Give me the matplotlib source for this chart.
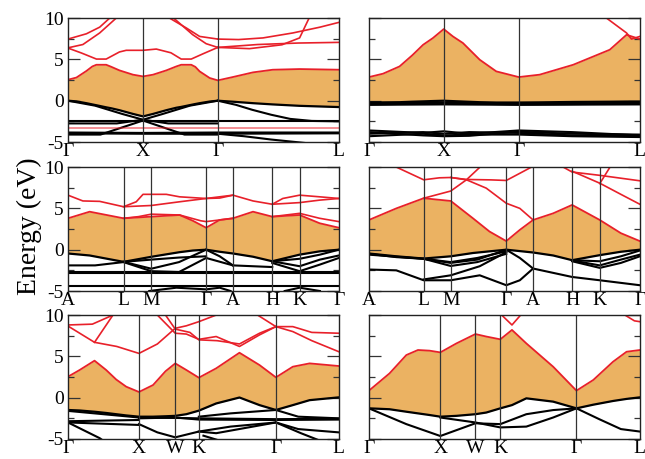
import matplotlib.pyplot as plt
from matplotlib.ticker import MultipleLocator

plt.rcParams['font.family'] = ['Liberation Serif', 'DejaVu Serif']
plt.rcParams['axes.unicode_minus'] = False

RED = '#e8202a'
FILL = '#ebb262'

# ---- panel 1 (top left) ----
p1_kpos = [0, 0.277, 0.553, 1.0]
p1_klab = ['Γ', 'X', 'Γ', 'L']
p1_x = [0, 0.031, 0.068, 0.09, 0.105, 0.141, 0.16, 0.19, 0.24, 0.277, 0.314, 0.363, 0.4,
        0.418, 0.455, 0.47, 0.486, 0.523, 0.553, 0.608, 0.683, 0.756, 0.855, 1.0]
p1_cb = [2.54, 2.8, 3.6, 4.15, 4.35, 4.35, 4.1, 3.67, 3.15, 2.94, 3.15, 3.67, 4.15,
         4.35, 4.35, 4.1, 3.55, 2.75, 2.46, 2.86, 3.43, 3.75, 3.83, 3.75]
p1_vb = [0.0, -0.08, -0.3, -0.45, -0.55, -0.8, -0.92, -1.15, -1.6, -1.9, -1.6, -1.15, -0.85,
         -0.75, -0.5, -0.4, -0.3, -0.1, 0.0, -0.12, -0.3, -0.45, -0.62, -0.77]
p1_red = [
    ([0, 0.05, 0.105, 0.141, 0.19, 0.215, 0.277, 0.326, 0.38, 0.418, 0.455, 0.5, 0.553],
     [6.37, 5.77, 5.04, 5.04, 5.9, 6.1, 6.1, 6.25, 5.8, 5.04, 5.04, 5.7, 6.45]),
    ([0.553, 0.7, 0.85, 1.0], [6.45, 6.8, 6.98, 7.06]),
    ([0.553, 0.67, 0.79, 0.855, 0.89], [6.45, 6.3, 6.77, 7.6, 10.0]),
    ([0.553, 0.63, 0.72, 0.83, 0.93, 1.0], [7.46, 7.4, 7.6, 8.2, 8.9, 9.48]),
    ([0, 0.068, 0.117, 0.154], [7.46, 8.1, 8.9, 10.0]),
    ([0, 0.055, 0.117, 0.178], [6.4, 6.8, 8.2, 10.0]),
    ([0.375, 0.437, 0.486, 0.553], [10.0, 8.8, 7.78, 7.46]),
    ([0.39, 0.46, 0.51, 0.553], [10.0, 8.0, 6.9, 6.45]),
]
p1_pale = ([0, 1.0], [-3.3, -3.3])
p1_black = [
    ([0, 0.1, 0.2, 0.277, 0.35, 0.45, 0.553], [0.0, -0.6, -1.6, -2.3, -1.6, -0.6, 0.0]),
    ([0.553, 0.62, 0.68, 0.75, 0.82, 0.9, 1.0], [0.0, -0.5, -1.1, -1.7, -2.2, -2.45, -2.5]),
    ([0, 1.0], [-2.5, -2.5]),
    ([0, 0.18, 0.277, 0.37, 0.553], [-2.75, -2.75, -2.3, -2.75, -2.75]),
    ([0, 0.12, 0.277, 0.43, 0.553], [-4.1, -4.1, -2.4, -4.1, -4.1]),
    ([0, 0.277, 0.553, 1.0], [-3.85, -3.9, -3.85, -3.85]),
    ([0, 0.277, 0.553, 1.0], [-3.95, -4.0, -4.0, -3.95]),
    ([0.553, 0.65, 0.75, 0.84, 0.9], [-4.0, -4.3, -4.7, -5.0, -5.2]),
]

# ---- panel 2 (top right) ----
p2_kpos = [0, 0.276, 0.553, 1.0]
p2_klab = ['Γ', 'X', 'Γ', 'L']
p2_x = [0, 0.052, 0.113, 0.16, 0.2, 0.236, 0.276, 0.31, 0.347, 0.409, 0.47,
        0.553, 0.63, 0.754, 0.889, 0.951, 1.0]
p2_cb = [2.86, 3.27, 4.15, 5.5, 6.77, 7.58, 8.67, 7.78, 6.98, 4.96, 3.55,
         2.86, 3.15, 4.35, 6.17, 7.98, 7.46]
p2_vb = [-0.2, -0.2, -0.18, -0.12, -0.08, -0.04, 0.0, -0.05, -0.1, -0.18, -0.22,
         -0.22, -0.2, -0.15, -0.12, -0.1, -0.1]
p2_red = [
    ([0.877, 0.951, 0.969, 1.0], [10.0, 8.2, 7.46, 7.78]),
]
p2_black = [
    ([0, 0.276, 0.553, 1.0], [-0.35, -0.2, -0.4, -0.25]),
    ([0, 0.276, 0.553, 1.0], [-0.45, -0.3, -0.45, -0.35]),
    ([0, 0.276, 0.553, 1.0], [-0.5, -0.45, -0.5, -0.45]),
    ([0, 0.2, 0.276, 0.37, 0.553, 0.75, 1.0], [-3.6, -3.9, -3.7, -4.0, -3.6, -3.8, -4.2]),
    ([0, 0.2, 0.276, 0.37, 0.553, 0.75, 1.0], [-4.0, -3.8, -4.0, -3.8, -3.9, -4.2, -4.3]),
    ([0, 0.2, 0.276, 0.37, 0.553, 0.75, 1.0], [-4.3, -4.0, -4.2, -4.1, -4.1, -4.3, -4.4]),
    ([0, 0.2, 0.276, 0.37, 0.553, 0.75, 1.0], [-3.8, -4.2, -4.3, -4.25, -3.75, -4.0, -4.1]),
]

# ---- panel 3 (middle left) ----
p3_kpos = [0, 0.205, 0.3075, 0.51, 0.609, 0.754, 0.855, 1.0]
p3_klab = ['A', 'L', 'M', 'Γ', 'A', 'H', 'K', 'Γ']
p3_x = [0, 0.08, 0.205, 0.3075, 0.412, 0.461, 0.51, 0.56, 0.609, 0.683, 0.754,
        0.855, 0.929, 1.0]
p3_cb = [3.8, 4.6, 3.8, 4.0, 4.2, 3.5, 2.66, 3.6, 3.8, 4.6, 4.0, 4.2, 3.2, 2.66]
p3_vb = [-0.46, -0.7, -1.47, -0.86, -0.3, -0.1, 0.0, -0.25, -0.46, -0.85, -1.4,
         -0.6, -0.2, 0.0]
p3_red = [
    ([0.205, 0.26, 0.3075, 0.412, 0.49, 0.51, 0.56, 0.609],
     [3.8, 4.0, 4.3, 4.2, 3.5, 3.4, 3.6, 3.8]),
    ([0.754, 0.855, 0.929, 1.0], [4.0, 4.4, 3.8, 3.4]),
    ([0, 0.055, 0.117, 0.205, 0.252, 0.277, 0.3075, 0.363, 0.412, 0.51, 0.609,
      0.683, 0.754, 0.793, 0.855, 0.929, 1.0],
     [6.6, 5.9, 5.85, 5.2, 5.8, 6.7, 6.7, 6.7, 6.4, 6.2, 6.6, 5.9, 5.5, 6.2,
      6.6, 6.4, 6.2]),
    ([0.205, 0.3075, 0.412, 0.51, 0.56, 0.609], [5.2, 5.35, 5.8, 6.2, 6.25, 6.6]),
    ([0.754, 0.855, 0.929, 1.0], [5.5, 5.7, 6.0, 6.2]),
]
p3_black = [
    ([0, 0.1, 0.205], [-1.9, -1.9, -1.5]),
    ([0.205, 0.3075, 0.41, 0.51], [-1.47, -1.2, -0.95, -0.8]),
    ([0.205, 0.3075, 0.41, 0.51], [-1.47, -2.3, -1.5, 0.0]),
    ([0.205, 0.3075, 0.41, 0.51, 0.609], [-1.5, -2.6, -2.7, -1.0, -1.9]),
    ([0.51, 0.56, 0.609], [0.0, -0.8, -1.9]),
    ([0.609, 0.754], [-1.9, -2.1]),
    ([0.754, 0.855, 0.93, 1.0], [-1.4, -1.1, -0.6, 0.0]),
    ([0.754, 0.855, 0.93, 1.0], [-1.4, -2.0, -1.2, -0.7]),
    ([0.754, 0.855, 0.93, 1.0], [-1.6, -2.6, -1.8, -1.0]),
    ([0, 1.0], [-2.72, -2.72]),
    ([0, 1.0], [-2.85, -2.85]),
    ([0, 1.0], [-4.4, -4.4]),
    ([0.3, 0.4, 0.51, 0.56, 0.6], [-5.0, -4.6, -4.8, -4.6, -5.0]),
    ([0.8, 0.855, 0.93], [-5.0, -4.6, -5.0]),
]

# ---- panel 4 (middle right) ----
p4_kpos = [0, 0.202, 0.302, 0.507, 0.606, 0.75, 0.852, 1.0]
p4_klab = ['A', 'L', 'M', 'Γ', 'A', 'H', 'K', 'Γ']
p4_x = [0, 0.101, 0.202, 0.302, 0.384, 0.445, 0.507, 0.557, 0.606, 0.68, 0.75,
        0.852, 0.93, 1.0]
p4_cb = [3.6, 5.0, 6.23, 5.9, 3.8, 2.2, 1.04, 2.4, 3.6, 4.4, 5.42, 3.6, 2.0, 1.04]
p4_vb = [-0.46, -0.8, -1.07, -0.8, -0.4, -0.2, 0.0, -0.17, -0.34, -0.7, -1.27,
         -0.66, -0.25, 0.0]
p4_red = [
    ([0.202, 0.302, 0.36, 0.41], [6.23, 7.1, 8.46, 10.0]),
    ([0.101, 0.202, 0.26, 0.302, 0.36, 0.45, 0.507, 0.56, 0.6],
     [10.0, 8.46, 8.7, 8.74, 8.5, 8.45, 8.38, 9.3, 10.0]),
    ([0.302, 0.36, 0.433, 0.507, 0.557, 0.606], [8.74, 8.46, 7.45, 5.62, 5.0, 3.6]),
    ([0.717, 0.75, 0.852, 1.0], [10.0, 9.4, 9.0, 8.34]),
    ([0.75, 0.852, 0.93, 1.0], [9.5, 8.05, 6.7, 5.5]),
    ([0.852, 0.89], [8.0, 10.0]),
]
p4_black = [
    ([0, 0.101, 0.202, 0.302, 0.4, 0.507], [-0.5, -0.9, -1.1, -1.5, -1.0, -0.2]),
    ([0, 0.202, 0.302, 0.4, 0.507], [-0.6, -1.1, -1.97, -1.5, -0.5]),
    ([0.202, 0.302, 0.4, 0.507, 0.557, 0.606], [-1.1, -1.6, -1.2, 0.0, -1.0, -2.28]),
    ([0, 0.101, 0.202, 0.302, 0.409, 0.507, 0.557, 0.606, 0.75, 0.852, 1.0],
     [-2.4, -2.5, -3.7, -3.7, -3.1, -4.3, -3.7, -2.28, -3.3, -3.7, -4.3]),
    ([0.202, 0.302, 0.409, 0.507], [-3.6, -3.1, -2.0, -0.3]),
    ([0.75, 0.852, 0.93, 1.0], [-1.27, -1.4, -0.8, -0.1]),
    ([0.75, 0.852, 0.93, 1.0], [-1.3, -1.9, -1.2, -0.6]),
    ([0.75, 0.852, 0.93, 1.0], [-1.4, -2.2, -1.6, -0.8]),
]

# ---- panel 5 (bottom left) ----
p5_kpos = [0, 0.262, 0.396, 0.483, 0.7675, 1.0]
p5_klab = ['Γ', 'X', 'W', 'K', 'Γ', 'L']
p5_x = [0, 0.043, 0.098, 0.141, 0.178, 0.215, 0.262, 0.314, 0.36, 0.396, 0.437,
        0.483, 0.547, 0.633, 0.707, 0.7675, 0.83, 0.892, 1.0]
p5_cb = [2.54, 3.35, 4.48, 3.35, 2.2, 1.33, 0.69, 1.53, 3.2, 4.15, 3.35, 2.42,
         3.55, 5.44, 3.95, 2.46, 3.75, 4.15, 3.83]
p5_vb = [-1.49, -1.55, -1.7, -1.85, -2.0, -2.15, -2.3, -2.3, -2.25, -2.2, -2.0,
         -1.57, -0.7, 0.02, -0.9, -1.49, -0.9, -0.3, 0.04]
p5_red = [
    ([0, 0.098, 0.18, 0.262, 0.33, 0.396, 0.437, 0.483, 0.547],
     [8.67, 6.7, 6.2, 5.36, 6.5, 8.4, 8.7, 9.2, 10.0]),
    ([0, 0.09, 0.166], [8.8, 8.9, 10.0]),
    ([0.098, 0.166], [6.7, 10.0]),
    ([0.33, 0.396, 0.437, 0.483, 0.547, 0.633, 0.707, 0.7675],
     [10.0, 7.8, 7.7, 7.06, 7.4, 6.2, 7.6, 8.6]),
    ([0.36, 0.396, 0.45, 0.483, 0.55, 0.633, 0.707, 0.7675],
     [10.0, 8.3, 7.9, 7.0, 6.9, 6.5, 7.8, 8.6]),
    ([0.7, 0.7675], [10.0, 8.6]),
    ([0.7675, 0.83, 0.9, 1.0], [8.6, 8.0, 6.9, 5.56]),
    ([0.7675, 0.83, 0.9, 1.0], [8.6, 8.6, 7.9, 7.8]),
]
p5_black = [
    ([0, 0.262], [-1.6, -2.4]),
    ([0, 0.262], [-2.85, -2.7]),
    ([0, 0.262], [-3.0, -3.3]),
    ([0.262, 0.396, 0.483, 0.7675, 1.0], [-2.4, -2.45, -2.5, -2.6, -2.55]),
    ([0.262, 0.396, 0.483, 0.7675, 1.0], [-2.5, -2.4, -2.65, -2.7, -2.65]),
    ([0.483, 0.6, 0.7675], [-2.3, -1.9, -1.49]),
    ([0.7675, 0.85, 1.0], [-1.49, -2.3, -2.5]),
    ([0, 0.117, 0.13], [-3.0, -4.9, -5.2]),
    ([0.262, 0.33, 0.396, 0.483, 0.547, 0.7675, 0.85, 1.0],
     [-3.2, -4.2, -4.8, -4.1, -4.3, -3.0, -3.8, -4.2]),
    ([0.483, 0.6, 0.7675], [-4.1, -3.5, -3.0]),
    ([0.5, 0.56], [-4.6, -5.2]),
    ([0.7675, 0.86, 0.93], [-3.0, -4.3, -5.2]),
]

# ---- panel 6 (bottom right) ----
p6_kpos = [0, 0.2635, 0.393, 0.485, 0.766, 1.0]
p6_klab = ['Γ', 'X', 'W', 'K', 'Γ', 'L']
p6_x = [0, 0.076, 0.138, 0.181, 0.224, 0.2635, 0.323, 0.393, 0.433, 0.485, 0.528,
        0.581, 0.68, 0.766, 0.828, 0.901, 0.951, 1.0]
p6_cb = [0.85, 2.94, 5.16, 5.77, 5.69, 5.48, 6.57, 7.7, 7.4, 7.06, 8.2, 6.57,
         3.75, 0.85, 2.14, 4.35, 5.56, 5.77]
p6_vb = [-1.29, -1.4, -1.7, -1.9, -2.1, -2.3, -2.2, -2.0, -1.8, -1.29, -0.9,
         -0.08, -0.48, -1.29, -0.85, -0.4, -0.15, 0.04]
p6_red = [
    ([0.49, 0.528, 0.56], [10.0, 8.8, 10.0]),
    ([0.945, 0.98, 1.0], [10.0, 9.3, 9.2]),
]
p6_black = [
    ([0.2635, 0.393, 0.485, 0.581, 0.68, 0.766], [-2.4, -3.0, -3.6, -3.5, -2.4, -1.29]),
    ([0, 0.138, 0.2635, 0.393, 0.485, 0.581, 0.68, 0.766],
     [-1.29, -3.2, -4.64, -3.1, -3.2, -2.0, -1.5, -1.29]),
    ([0.766, 0.85, 0.93, 1.0], [-1.29, -2.6, -3.8, -4.1]),
]


def draw_panel(ax, kpos, klab, x, cb, vb, red, black, left=True, pale=None):
    ax.fill_between(x, vb, cb, color=FILL, lw=0, zorder=1)
    for xs, ys in black:
        ax.plot(xs, ys, color='black', lw=1.5, zorder=2)
    ax.plot(x, vb, color='black', lw=1.6, zorder=3)
    if pale is not None:
        ax.plot(pale[0], pale[1], color=RED, lw=1.3, alpha=0.55, zorder=3)
    for xs, ys in red:
        ax.plot(xs, ys, color=RED, lw=1.2, zorder=3)
    ax.plot(x, cb, color=RED, lw=1.3, zorder=4)
    for k in kpos[1:-1]:
        ax.axvline(k, color='#333333', lw=0.9, zorder=5)
    ax.set_xlim(0, 1)
    ax.set_ylim(-5, 10)
    ax.set_xticks(kpos)
    ax.set_xticklabels(klab, fontsize=14)
    ax.tick_params(axis='x', length=0, pad=1)
    ax.yaxis.set_major_locator(MultipleLocator(5))
    ax.yaxis.set_minor_locator(MultipleLocator(2.5))
    ax.tick_params(axis='y', which='major', direction='in', length=8.5, width=0.9,
                   left=True, right=True, labelsize=14, pad=3, colors='#333333',
                   labelcolor='black')
    ax.tick_params(axis='y', which='minor', direction='in', length=4.3, width=0.9,
                   left=True, right=True, colors='#333333')
    if not left:
        ax.tick_params(axis='y', labelleft=False)
    for sp in ax.spines.values():
        sp.set_linewidth(1.0)
        sp.set_color('#222222')
        sp.set_zorder(6)


fig = plt.figure(figsize=(6.45, 4.59), dpi=100)
w = 0.420
h = 0.270
col_left = [0.1054, 0.572]
row_bottom = [0.6906, 0.366, 0.0436]

ax1 = fig.add_axes([col_left[0], row_bottom[0], w, h])
ax2 = fig.add_axes([col_left[1], row_bottom[0], w, h])
ax3 = fig.add_axes([col_left[0], row_bottom[1], w, h])
ax4 = fig.add_axes([col_left[1], row_bottom[1], w, h])
ax5 = fig.add_axes([col_left[0], row_bottom[2], w, h])
ax6 = fig.add_axes([col_left[1], row_bottom[2], w, h])

draw_panel(ax1, p1_kpos, p1_klab, p1_x, p1_cb, p1_vb, p1_red, p1_black, pale=p1_pale)
draw_panel(ax2, p2_kpos, p2_klab, p2_x, p2_cb, p2_vb, p2_red, p2_black, left=False)
draw_panel(ax3, p3_kpos, p3_klab, p3_x, p3_cb, p3_vb, p3_red, p3_black)
draw_panel(ax4, p4_kpos, p4_klab, p4_x, p4_cb, p4_vb, p4_red, p4_black, left=False)
draw_panel(ax5, p5_kpos, p5_klab, p5_x, p5_cb, p5_vb, p5_red, p5_black)
draw_panel(ax6, p6_kpos, p6_klab, p6_x, p6_cb, p6_vb, p6_red, p6_black, left=False)

fig.text(0.046, 0.507, 'Energy (eV)', rotation=90, ha='center', va='center',
         fontsize=20)

fig.savefig('out.png', dpi=100)
